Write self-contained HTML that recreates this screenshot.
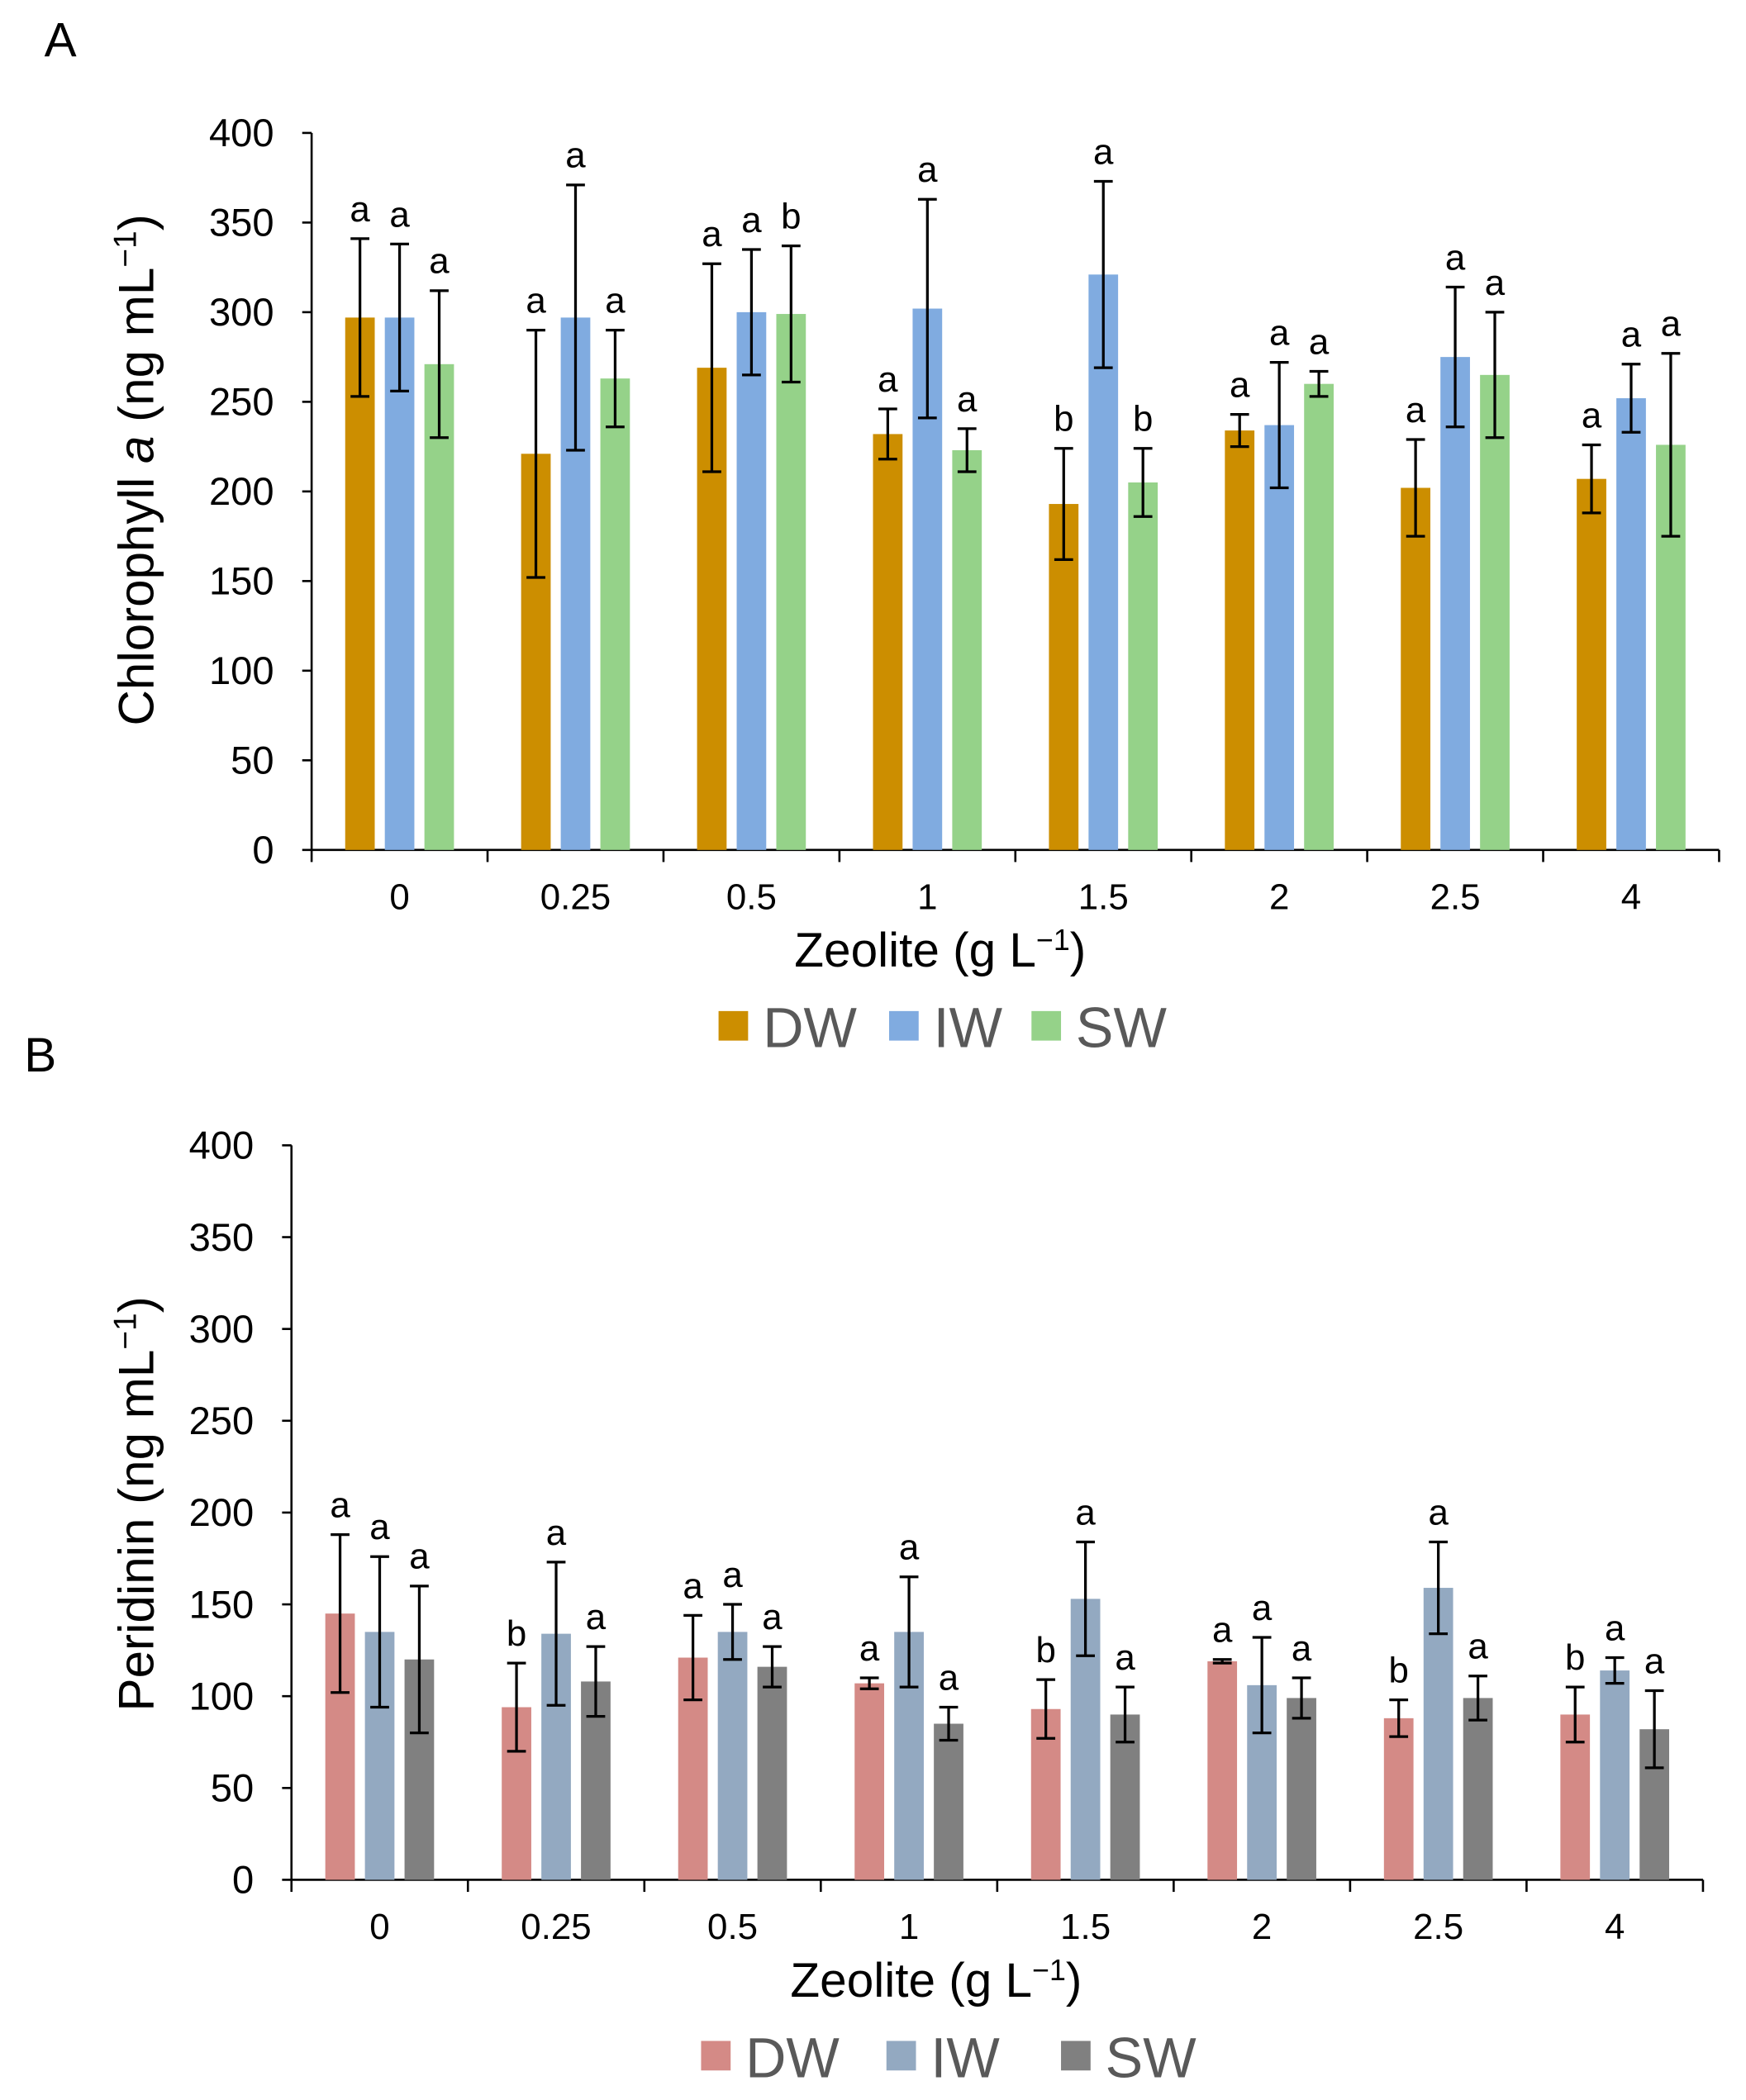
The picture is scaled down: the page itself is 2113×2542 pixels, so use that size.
<!DOCTYPE html>
<html><head><meta charset="utf-8"><style>
html,body{margin:0;padding:0;background:#fff}
svg{display:block}
text{font-family:"Liberation Sans",sans-serif}
</style></head><body>
<svg id="fig" width="2113" height="2542" viewBox="0 0 1300 1564" xmlns="http://www.w3.org/2000/svg">
<text x="33" y="42" font-size="36">A</text>
<text x="18" y="798" font-size="36">B</text>
<g id="chartA"></g>
<g id="chartB"></g>
</svg>
<script>
const categories = ["0","0.25","0.5","1","1.5","2","2.5","4"];
const yTicks = [0,50,100,150,200,250,300,350,400];
const seriesNames = ["DW","IW","SW"];
const aDW = [297,221,269,232,193,234,202,207];
const aIW = [297,297,300,302,321,237,275,252];
const aSW = [271,263,299,223,205,260,265,226];
const aDWerr = [44,69,58,14,31,9,27,19];
const aIWerr = [41,74,35,61,52,35,39,19];
const aSWerr = [41,27,38,12,19,7,35,51];
const aDWlet = ["a","a","a","a","b","a","a","a"];
const aIWlet = ["a","a","a","a","a","a","a","a"];
const aSWlet = ["a","a","b","a","b","a","a","a"];
const bDW = [145,94,121,107,93,119,88,90];
const bIW = [135,134,135,135,153,106,159,114];
const bSW = [120,108,116,85,90,99,99,82];
const bDWerr = [43,24,23,3,16,1,10,15];
const bIWerr = [41,39,15,30,31,26,25,7];
const bSWerr = [40,19,11,9,15,11,12,21];
const bDWlet = ["a","b","a","a","b","a","b","b"];
const bIWlet = ["a","a","a","a","a","a","a","a"];
const bSWlet = ["a","a","a","a","a","a","a","a"];

const NS="http://www.w3.org/2000/svg";
function mk(tag, attrs, parent){const e=document.createElementNS(NS,tag);for(const k in attrs)e.setAttribute(k,attrs[k]);parent.appendChild(e);return e;}

function drawChart(g, cfg){
  const {x0,x1,y0,yTop,vals,errs,lets,colors,ytitleX,ytitleY,italicA,xtitleX,xtitleY,legY,legX,prefix}=cfg;
  const yMax=400;
  const ys=v=>y0-(v/yMax)*(y0-yTop);
  const gw=(x1-x0)/categories.length;
  const xc=i=>x0+gw*(i+0.5);
  const offs=[-29.5,0,29.5], bw=22;
  let ax=mk('line',{x1:x0,y1:yTop,x2:x0,y2:y0,stroke:'#000','stroke-width':1.6},g);
  
  
  yTicks.forEach(t=>{
    const y=ys(t);
    const tl=mk('line',{x1:x0-7,y1:y,x2:x0,y2:y,stroke:'#000','stroke-width':1.6},g);
    
    
    const tx=mk('text',{x:x0-28,y:y+10,'font-size':29,'text-anchor':'end',fill:'#000'},g);
    
    
    tx.textContent=t;
  });
  const xa=mk('line',{x1:x0,y1:y0,x2:x1,y2:y0,stroke:'#000','stroke-width':1.6},g);
  
  
  for(let i=0;i<=categories.length;i++){
    const xt=mk('line',{x1:x0+gw*i,y1:y0,x2:x0+gw*i,y2:y0+9,stroke:'#000','stroke-width':1.6},g);
    
    
  }
  categories.forEach((c,i)=>{
    const t=mk('text',{x:xc(i),y:y0+44,'font-size':27,'text-anchor':'middle',fill:'#000'},g);
    
    
    t.textContent=c;
  });
  for(let s=0;s<3;s++){
    categories.forEach((c,i)=>{
      const v=vals[s][i], e=errs[s][i], cx=xc(i)+offs[s];
      const r=mk('rect',{x:cx-bw/2,y:ys(v),width:bw,height:y0-ys(v),fill:colors[s]},g);
      
      
      const eb=mk('path',{d:`M${cx},${ys(v+e)}V${ys(v-e)}M${cx-7},${ys(v+e)}H${cx+7}M${cx-7},${ys(v-e)}H${cx+7}`,stroke:'#000','stroke-width':2,fill:'none'},g);
      
      
      const lt=mk('text',{x:cx,y:ys(v+e)-13,'font-size':27,'text-anchor':'middle',fill:'#000'},g);
      
      
      lt.textContent=lets[s][i];
    });
  }
  const yt=mk('text',{x:0,y:0,'font-size':37,'text-anchor':'middle',fill:'#000',transform:`translate(${ytitleX},${ytitleY}) rotate(-90)`},g);
  
  
  if(italicA){
    yt.innerHTML='Chlorophyll <tspan font-style="italic">a</tspan> (ng mL<tspan baseline-shift="super" font-size="24">−1</tspan>)';
  } else {
    yt.innerHTML='Peridinin (ng mL<tspan baseline-shift="super" font-size="24">−1</tspan>)';
  }
  const xtt=mk('text',{x:xtitleX,y:xtitleY,'font-size':36,'text-anchor':'middle',fill:'#000'},g);
  
  
  xtt.innerHTML='Zeolite (g L<tspan baseline-shift="super" font-size="22">−1</tspan>)';
  for(let s=0;s<3;s++){
    const lg=mk('g',{},g);
    
    
    mk('rect',{x:legX[s],y:legY-12,width:22,height:22,fill:colors[s]},lg);
    const t=mk('text',{x:legX[s]+33,y:legY+15,'font-size':42,fill:'#595959'},lg);
    t.textContent=seriesNames[s];
  }
}

drawChart(document.getElementById('chartA'),{
  prefix:'a',x0:232,x1:1280,y0:633,yTop:99,
  vals:[aDW,aIW,aSW],errs:[aDWerr,aIWerr,aSWerr],lets:[aDWlet,aIWlet,aSWlet],
  colors:['#CC8E00','#80ABE0','#95D289'],
  ytitleX:114,ytitleY:350,italicA:true,xtitleX:700,xtitleY:720,legY:765,legX:[535,662,768]
});
drawChart(document.getElementById('chartB'),{
  prefix:'b',x0:217,x1:1268,y0:1400,yTop:853,
  vals:[bDW,bIW,bSW],errs:[bDWerr,bIWerr,bSWerr],lets:[bDWlet,bIWlet,bSWlet],
  colors:['#D48A86','#93A9C1','#808080'],
  ytitleX:114,ytitleY:1120,italicA:false,xtitleX:697,xtitleY:1487,legY:1532,legX:[522,660,790]
});
</script>
</body></html>
